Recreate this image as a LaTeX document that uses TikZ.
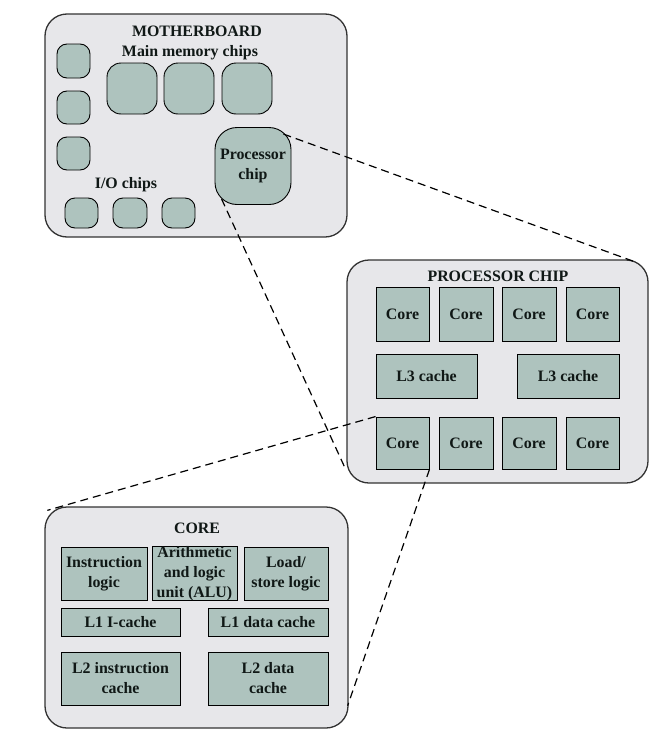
\documentclass[tikz,border=0pt]{standalone}
\usepackage{fontspec}
\setmainfont{Liberation Serif}
\usetikzlibrary{calc}
\definecolor{boardfill}{HTML}{E7E7EA}
\definecolor{chipfill}{HTML}{AEC3BE}
\definecolor{edge}{HTML}{333333}
\definecolor{ink}{HTML}{101816}

\begin{document}
\begin{tikzpicture}[x=1pt,y=-1pt,
  lbl/.style={font=\fontsize{15.9}{20}\selectfont\bfseries, text=ink, inner sep=0pt, align=center},
  board/.style={draw=edge, line width=1.3pt, fill=boardfill, rounded corners=22pt, inner sep=0pt},
  chip/.style={draw=black, line width=0.9pt, fill=chipfill, inner sep=0pt, lbl},
  smallchip/.style={chip, rounded corners=10pt},
  memchip/.style={chip, rounded corners=14pt},
  cpuchip/.style={chip, rounded corners=22pt},
  sz/.style 2 args={minimum width=#1pt, minimum height=#2pt},
  link/.style={draw=black, line width=1.2pt, dash pattern=on 8pt off 5pt}]
\useasboundingbox (0,0) rectangle (662,731);

% ---------- Motherboard ----------
\node[board, sz={302}{223}] (mb) at (196,125.5) {};
\node[lbl, anchor=base] (mbt) at (197,36) {MOTHERBOARD};
\node[lbl, anchor=base] (memt) at (190,56) {Main memory chips};
\node[lbl, anchor=base] (iot) at (126,188) {I/O chips};

\node[smallchip, sz={33}{34}] (s1) at (73.5,61) {};
\node[smallchip, sz={33}{33}] (s2) at (73.5,107.5) {};
\node[smallchip, sz={33}{33}] (s3) at (73.5,153.5) {};

\node[memchip, sz={50}{51}] (m1) at (132,88.5) {};
\node[memchip, sz={50}{51}] (m2) at (189,88.5) {};
\node[memchip, sz={50}{51}] (m3) at (247,88.5) {};

\node[smallchip, sz={33}{30}] (io1) at (81.5,213) {};
\node[smallchip, sz={34}{30}] (io2) at (130,213) {};
\node[smallchip, sz={33}{30}] (io3) at (178.5,213) {};

\node[cpuchip, sz={76}{77}] (pc) at (253,166) {Processor\\chip};

% ---------- Processor chip ----------
\node[board, sz={301}{223}] (pb) at (497.5,371.5) {};
\node[lbl, anchor=base] (pbt) at (498,281) {PROCESSOR CHIP};

\node[chip, sz={53}{54}] (c1) at (402.5,314) {Core};
\node[chip, sz={54}{54}] (c2) at (466,314) {Core};
\node[chip, sz={54}{54}] (c3) at (529,314) {Core};
\node[chip, sz={53}{54}] (c4) at (592.5,314) {Core};

\node[chip, sz={101}{44}] (l3a) at (426.5,376) {L3 cache};
\node[chip, sz={102}{44}] (l3b) at (568,376) {L3 cache};

\node[chip, sz={53}{52}] (c5) at (402.5,443) {Core};
\node[chip, sz={54}{52}] (c6) at (466,443) {Core};
\node[chip, sz={54}{52}] (c7) at (529,443) {Core};
\node[chip, sz={53}{52}] (c8) at (592.5,443) {Core};

% ---------- Core ----------
\node[board, sz={303}{221}] (cb) at (196.5,617.5) {};
\node[lbl, anchor=base] (cbt) at (197,533) {CORE};

\node[chip, sz={86}{53}] (il) at (104,573.5) {Instruction\\logic};
\node[chip, sz={85}{53}] (alu) at (194.5,573.5) {Arithmetic\\and logic\\unit (ALU)};
\node[chip, sz={84}{53}] (ls) at (286,573.5) {Load/\\store logic};

\node[chip, sz={119}{28}] (l1i) at (120.5,622) {L1 I-cache};
\node[chip, sz={120}{28}] (l1d) at (268,622) {L1 data cache};

\node[chip, sz={119}{53}] (l2i) at (120.5,678.5) {L2 instruction\\cache};
\node[chip, sz={120}{53}] (l2d) at (268,678.5) {L2 data\\cache};

% ---------- Zoom lines ----------
\draw[link] ([shift={(-8,7)}]pc.north east) -- ([shift={(-15,2)}]pb.north east);
\draw[link] ([shift={(7,-6)}]pc.south west) -- ([shift={(-1,-15)}]pb.south west);
\draw[link] (c5.north west) -- ([shift={(3,4)}]cb.north west);
\draw[link] (c5.south east) -- ([shift={(-1,-23)}]cb.south east);
\end{tikzpicture}
\end{document}
